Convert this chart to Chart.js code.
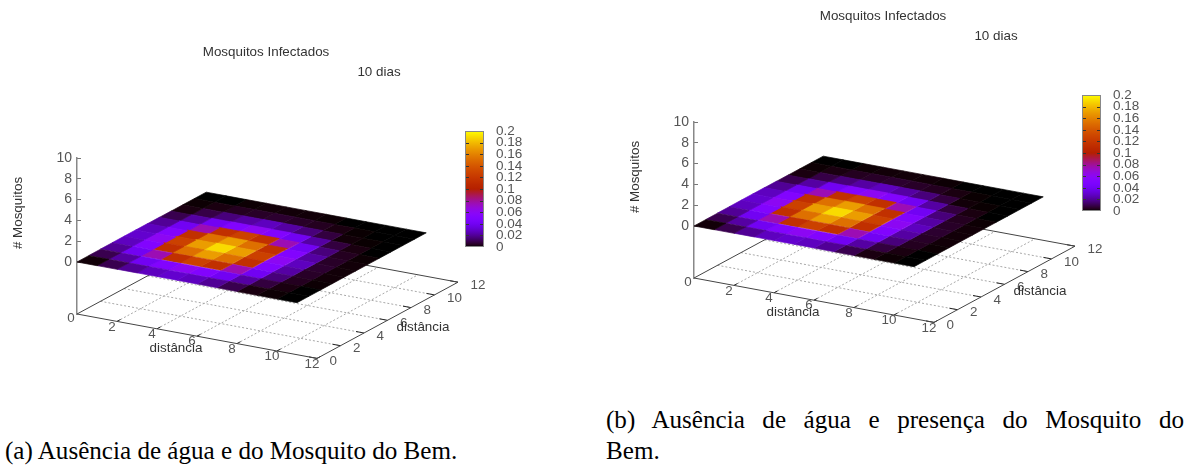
<!DOCTYPE html>
<html><head><meta charset="utf-8">
<script src="https://cdn.jsdelivr.net/npm/chart.js@4"></script>
<style>
html,body{margin:0;padding:0;background:#fff;width:1193px;height:466px;overflow:hidden}
canvas{position:absolute;display:block}
.cap{position:absolute;font-family:"Liberation Serif",serif;font-size:25.1px;line-height:28px;color:#000;white-space:nowrap}
</style></head><body>
<canvas id="panelA" style="left:0;top:0"></canvas>
<canvas id="panelB" style="left:596px;top:0"></canvas>
<canvas id="barA" style="left:440px;top:110px"></canvas>
<canvas id="barB" style="left:1057px;top:74px"></canvas>
<div class="cap" style="left:5px;top:437px">(a) Ausência de água e do Mosquito do Bem.</div>
<div class="cap" style="left:606px;top:406px;width:578px;text-align:justify;text-align-last:justify;white-space:normal">(b) Ausência de água e presença do Mosquito do</div>
<div class="cap" style="left:606px;top:437px">Bem.</div>
<script>
// Cell values (colour index), rows follow the y axis 0..11, columns the x axis 0..11
const cellValues = [
 [.001,.010,.020,.027,.030,.027,.020,.010,.002,.0005,0],
 [.010,.022,.040,.052,.060,.052,.040,.022,.008,.002,0],
 [.020,.040,.075,.115,.127,.115,.075,.040,.016,.004,.0005],
 [.027,.052,.115,.152,.170,.152,.115,.052,.022,.005,.001],
 [.030,.060,.127,.170,.190,.170,.127,.060,.027,.006,.001],
 [.027,.052,.115,.152,.170,.152,.115,.052,.022,.005,.001],
 [.020,.040,.075,.115,.127,.115,.075,.040,.016,.004,.0005],
 [.010,.022,.040,.052,.060,.052,.040,.022,.008,.002,0],
 [.002,.009,.016,.022,.027,.022,.016,.008,.001,.0003,0],
 [.0005,.002,.004,.005,.006,.005,.004,.002,.0003,0,0],
 [0,0,.0005,.001,.001,.001,.0005,0,0,0,0]
];
const xTickValues = [2,4,6,8,10,12];
const yTickValues = [0,2,4,6,8,10,12];
const zTickValues = [0,2,4,6,8,10];
const cbTickValues = [0,.02,.04,.06,.08,.1,.12,.14,.16,.18,.2];
const gridX = [2,4,6,8,10];
const gridY = [2,4,6,8,10];
const titleText = 'Mosquitos Infectados';
const subtitleText = '10 dias';
const zLabel = '# Mosquitos';
const axisLabel = 'distância';

const FLOOR = -5, XPX = 20, XDY = 3.7, YDX = 11.75, YDY = 6.35, ZPX = 10.4;
const SANS = '"Liberation Sans",Arial,sans-serif';
const project = (a,b,z) => ({x: a + b*YDX/XPX, y: z + (b*YDY - a*XDY)/ZPX});
const palette = v => {
  const t = Math.min(1, Math.max(0, v/0.2));
  const b = Math.max(0, Math.sin(2*Math.PI*t));
  return `rgb(${Math.round(255*Math.sqrt(t))},${Math.round(255*t*t*t)},${Math.round(255*b)})`;
};
const lineDs = (pts,color,width,dash,order) => ({
  data: pts, showLine:true, borderColor:color, borderWidth:width, borderDash:dash||[],
  pointRadius:0, fill:false, tension:0, clip:false, order
});

function floorDatasets(){
  const out = [];
  gridX.forEach(v => out.push(lineDs([project(v,0,FLOOR),project(v,12,FLOOR)],'#a8a8a8',1,[2,2],10)));
  gridY.forEach(v => out.push(lineDs([project(0,v,FLOOR),project(12,v,FLOOR)],'#a8a8a8',1,[2,2],10)));
  out.push(lineDs([project(0,0,FLOOR),project(12,0,FLOOR),project(12,12,FLOOR),project(0,12,FLOOR),project(0,0,FLOOR)],'#444444',1,[],9));
  xTickValues.forEach(v => out.push(lineDs([project(v,0,FLOOR),project(v,.3,FLOOR)],'#222222',1,[],9)));
  yTickValues.forEach(v => out.push(lineDs([project(12,v,FLOOR),project(11.6,v,FLOOR)],'#222222',1,[],9)));
  return out;
}
function surfaceDatasets(){
  const out = [];
  cellValues.forEach((row,j) => row.forEach((v,i) => {
    const c = palette(v);
    out.push({
      data:[project(i,j,v),project(i+1,j,v),project(i+1,j+1,v),project(i,j+1,v),project(i,j,v)],
      showLine:true, fill:'shape', backgroundColor:c, borderColor:c, borderWidth:.7,
      pointRadius:0, tension:0, clip:false, order:1
    });
  }));
  return out;
}
const textPlugin = {
  id:'panelText',
  afterDatasetsDraw(chart,_,o){
    const {ctx,scales:{x,y},chartArea} = chart;
    const px = p => ({X:x.getPixelForValue(p.x), Y:y.getPixelForValue(p.y)});
    ctx.save();
    ctx.font = '13.4px '+SANS; ctx.textBaseline='middle'; ctx.fillStyle='#555';
    ctx.textAlign='center';
    xTickValues.forEach(v => { const P=px(project(v,0,FLOOR)); ctx.fillText(String(v),P.X-5,P.Y+5.5); });
    let P0=px(project(0,0,FLOOR)); ctx.fillText('0',P0.X-6,P0.Y+4);
    ctx.textAlign='left';
    yTickValues.forEach(v => { const P=px(project(12,v,FLOOR)); ctx.fillText(String(v),P.X+12.5,P.Y+3); });
    ctx.textAlign='center'; ctx.fillStyle='#333';
    const L=chartArea.left, T=chartArea.top;
    ctx.fillText(axisLabel,L+99,T+190);
    ctx.fillText(axisLabel,L+346,T+169);
    ctx.fillText(titleText,L+189,T-106);
    ctx.fillText(subtitleText,L+302,T-86);
    ctx.translate(L-59,T+55); ctx.rotate(-Math.PI/2);
    ctx.fillText(zLabel,0,0);
    ctx.restore();
  }
};
function panel(id,width,left,top){
  const c = document.getElementById(id); c.width=width; c.height=390;
  c.style.width=width+'px'; c.style.height='390px';
  new Chart(c,{
    type:'scatter',
    data:{datasets:[...floorDatasets(),...surfaceDatasets()]},
    options:{
      responsive:false, animation:false, events:[],
      layout:{padding:{left:0,top,right:width-left-400,bottom:390-top-156}},
      plugins:{legend:{display:false},tooltip:{enabled:false},title:{display:false}},
      scales:{
        x:{type:'linear',display:false,min:0,max:20},
        y:{type:'linear',position:'left',min:FLOOR,max:10,
           afterFit:s=>{s.width=left;},
           afterBuildTicks:s=>{s.ticks=zTickValues.map(v=>({value:v}));},
           border:{display:true,color:'#888888',width:1.5},
           grid:{drawOnChartArea:false,drawTicks:true,tickLength:-4,tickColor:'#777777',tickWidth:1},
           ticks:{padding:9,color:'#555',autoSkip:false,font:{family:SANS,size:14}}}
      }
    },
    plugins:[textPlugin]
  });
}
const barTicks = {
  id:'barTicks',
  afterDatasetsDraw(chart){
    const {ctx,chartArea:a,scales:{y}} = chart;
    ctx.save(); ctx.strokeStyle='#333'; ctx.lineWidth=1;
    cbTickValues.slice(1,-1).forEach(v=>{
      const Y=Math.round(y.getPixelForValue(v))+.5;
      ctx.beginPath();ctx.moveTo(a.left,Y);ctx.lineTo(a.left+4,Y);
      ctx.moveTo(a.right-4,Y);ctx.lineTo(a.right,Y);ctx.stroke();
    });
    ctx.strokeStyle='#888'; ctx.strokeRect(a.left+.5,a.top+.5,a.right-a.left-1,a.bottom-a.top-1);
    ctx.restore();
  }
};
function colorbar(id){
  const c=document.getElementById(id); c.width=100;c.height=160;
  c.style.width='100px';c.style.height='160px';
  new Chart(c,{
    type:'bar',
    data:{labels:['cb'],datasets:[{data:[.2],barPercentage:1,categoryPercentage:1,
      backgroundColor:ctx=>{
        const a=ctx.chart.chartArea; if(!a) return '#000';
        const g=ctx.chart.ctx.createLinearGradient(0,a.bottom,0,a.top);
        for(let i=0;i<=50;i++) g.addColorStop(i/50,palette(.2*i/50));
        return g;
      }}]},
    options:{
      responsive:false,animation:false,events:[],
      layout:{padding:{left:25,top:21,right:0,bottom:23}},
      plugins:{legend:{display:false},tooltip:{enabled:false}},
      scales:{
        x:{display:false},
        y:{position:'right',min:0,max:.2,
           afterFit:s=>{s.width=56;},
           afterBuildTicks:s=>{s.ticks=cbTickValues.map(v=>({value:v}));},
           border:{display:false},
           grid:{display:false,drawTicks:false},
           ticks:{padding:12,color:'#555',autoSkip:false,font:{family:SANS,size:13.5},callback:v=>String(v)}}
      }
    },
    plugins:[barTicks]
  });
}
panel('panelA',596,77,158);
panel('panelB',597,98,122);
colorbar('barA');
colorbar('barB');
</script>
</body></html>
